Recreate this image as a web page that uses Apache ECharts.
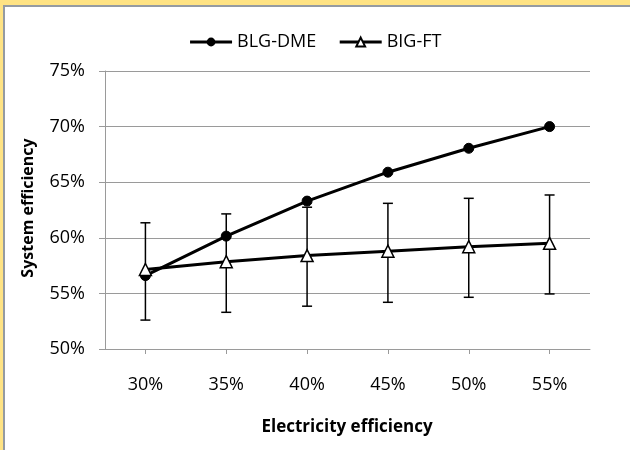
<!DOCTYPE html>
<html>
<head>
<meta charset="utf-8">
<title>System efficiency</title>
<script src="https://cdn.jsdelivr.net/npm/echarts@6/dist/echarts.min.js"></script>
<style>
  html, body { margin: 0; padding: 0; }
  #frame { position: absolute; left: 0; top: 0; width: 630px; height: 450px; background: #ffe384; }
  #paper { position: absolute; left: 3px; top: 5px; right: 0; bottom: 0; background: #fff;
           border-left: 2px solid #959ba2; border-top: 2px solid #959ba2; }
  #chart { position: absolute; left: 0; top: 0; width: 630px; height: 450px; }
</style>
</head>
<body>
<div id="frame"><div id="paper"></div></div>
<div id="chart"></div>
<script>
  "use strict";
  // data
  var categories = ['30%', '35%', '40%', '45%', '50%', '55%'];
  var blgDme = [56.6, 60.15, 63.3, 65.9, 68.05, 70.0];
  var bigFt = [57.15, 57.85, 58.4, 58.8, 59.2, 59.5];
  var bigFtHigh = [61.35, 62.15, 62.75, 63.1, 63.55, 63.85];
  var bigFtLow = [52.6, 53.3, 53.85, 54.2, 54.65, 54.95];
  var yTicks = { min: 50, max: 75, step: 5 };

  var font = 'Open Sans';
  var grey = '#9a9a9a';

  // [category index, low, high] for the error bars
  var errorData = categories.map(function (c, i) {
    return [i, bigFtLow[i], bigFtHigh[i]];
  });

  var renderErrorBar = function (params, api) {
    var top = api.coord([api.value(0), api.value(2)]);
    var bottom = api.coord([api.value(0), api.value(1)]);
    var half = 5;
    var style = { stroke: '#000', lineWidth: 1.5 };
    return {
      type: 'group',
      children: [
        { type: 'line', shape: { x1: top[0], y1: top[1], x2: bottom[0], y2: bottom[1] }, style: style },
        { type: 'line', shape: { x1: top[0] - half, y1: top[1], x2: top[0] + half, y2: top[1] }, style: style },
        { type: 'line', shape: { x1: bottom[0] - half, y1: bottom[1], x2: bottom[0] + half, y2: bottom[1] }, style: style }
      ]
    };
  };

  var chart = echarts.init(document.getElementById('chart'));
  var option = {
    backgroundColor: 'transparent',
    animation: false,
    textStyle: { fontFamily: font },
    legend: {
      left: 'center',
      top: 28,
      itemWidth: 42,
      itemHeight: 11,
      itemGap: 22,
      lineStyle: { width: 3 },
      textStyle: { fontFamily: font, fontSize: 18, color: '#000' },
      data: ['BLG-DME', 'BIG-FT']
    },
    grid: { left: 105, right: 40, top: 71, bottom: 101 },
    xAxis: {
      type: 'category',
      data: categories,
      boundaryGap: true,
      axisLine: { lineStyle: { color: grey, width: 1 } },
      axisTick: { show: true, alignWithLabel: true, length: 5, lineStyle: { color: grey } },
      axisLabel: { color: '#000', fontSize: 18, fontFamily: font, margin: 27 }
    },
    yAxis: {
      type: 'value',
      min: yTicks.min,
      max: yTicks.max,
      interval: yTicks.step,
      axisLine: { show: true, lineStyle: { color: grey, width: 1 } },
      axisTick: { show: true, length: 6, lineStyle: { color: grey } },
      splitLine: { lineStyle: { color: grey, width: 1 } },
      axisLabel: { color: '#000', fontSize: 18, fontFamily: font, margin: 20, formatter: '{value}%' }
    },
    graphic: [
      {
        type: 'text', x: 347, y: 427, z: 10,
        style: { text: 'Electricity efficiency', fontFamily: font, fontSize: 17, fontWeight: 'bold',
                 fill: '#000', align: 'center', verticalAlign: 'middle' }
      },
      {
        type: 'text', x: 28, y: 208, rotation: Math.PI / 2, z: 10,
        style: { text: 'System efficiency', fontFamily: font, fontSize: 16, fontWeight: 'bold',
                 fill: '#000', align: 'center', verticalAlign: 'middle' }
      }
    ],
    series: [
      {
        name: 'error',
        type: 'custom',
        renderItem: renderErrorBar,
        data: errorData,
        z: 1,
        silent: true
      },
      {
        name: 'BLG-DME',
        type: 'line',
        data: blgDme,
        symbol: 'circle',
        symbolSize: 10,
        z: 3,
        lineStyle: { color: '#000', width: 3 },
        itemStyle: { color: '#000', borderColor: '#000' }
      },
      {
        name: 'BIG-FT',
        type: 'line',
        data: bigFt,
        symbol: 'triangle',
        symbolSize: 12,
        z: 4,
        lineStyle: { color: '#000', width: 3 },
        itemStyle: { color: '#fff', borderColor: '#000', borderWidth: 1.5 }
      }
    ]
  };
  chart.setOption(option);
</script>
</body>
</html>
